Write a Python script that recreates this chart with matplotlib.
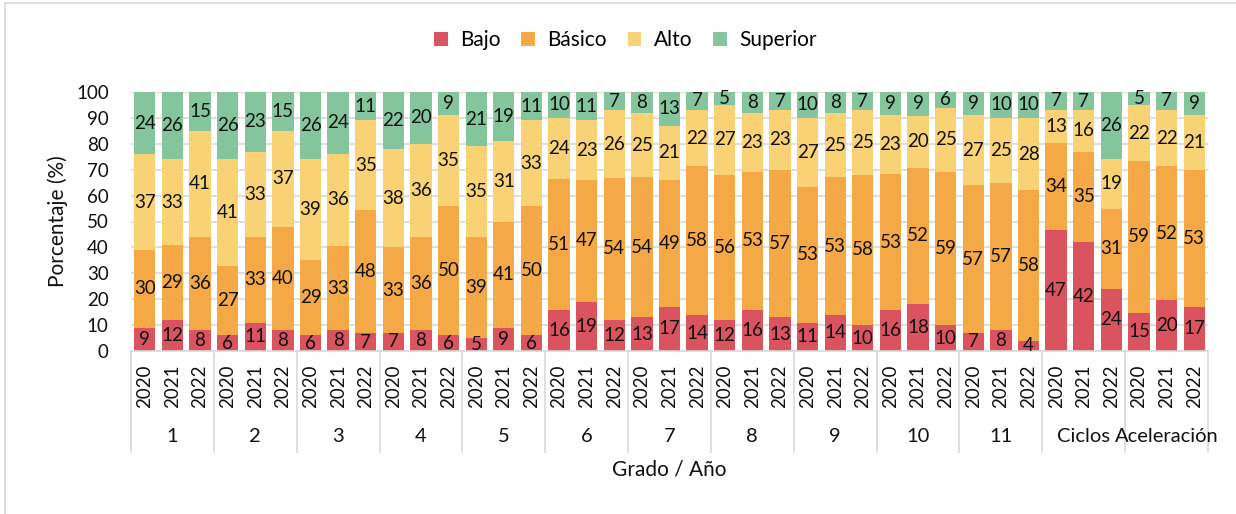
import matplotlib
matplotlib.use("Agg")
import matplotlib.pyplot as plt
from matplotlib.patches import Rectangle
import matplotlib.transforms as mtransforms
import numpy as np

plt.rcParams["font.family"] = ["Lato", "DejaVu Sans"]

grades = ["1", "2", "3", "4", "5", "6", "7", "8", "9", "10", "11", "Ciclos", "Aceleración"]
years = ["2020", "2021", "2022"]

bajo = [9, 12, 8, 6, 11, 8, 6, 8, 7, 7, 8, 6, 5, 9, 6,
        16, 19, 12, 13, 17, 14, 12, 16, 13, 11, 14, 10, 16, 18, 10,
        7, 8, 4, 47, 42, 24, 15, 20, 17]
basico = [30, 29, 36, 27, 33, 40, 29, 33, 48, 33, 36, 50, 39, 41, 50,
          51, 47, 54, 54, 49, 58, 56, 53, 57, 53, 53, 58, 53, 52, 59,
          57, 57, 58, 34, 35, 31, 59, 52, 53]
alto = [37, 33, 41, 41, 33, 37, 39, 36, 35, 38, 36, 35, 35, 31, 33,
        24, 23, 26, 25, 21, 22, 27, 23, 23, 27, 25, 25, 23, 20, 25,
        27, 25, 28, 13, 16, 19, 22, 22, 21]
superior = [24, 26, 15, 26, 23, 15, 26, 24, 11, 22, 20, 9, 21, 19, 11,
            10, 11, 7, 8, 13, 7, 5, 8, 7, 10, 8, 7, 9, 9, 6,
            9, 10, 10, 7, 7, 26, 5, 7, 9]

series = [("Bajo", bajo, "#D9545F"),
          ("Básico", basico, "#F5A946"),
          ("Alto", alto, "#F9D275"),
          ("Superior", superior, "#85C59D")]

NUM_FS = 13.5
TXT_FS = 15

W, H = 1236, 514
fig = plt.figure(figsize=(W / 100, H / 100), dpi=100)

# light frame around the chart area
fig.patches.append(Rectangle((5 / W, -0.05), 1.1, 1 - 3 / H + 0.05,
                             transform=fig.transFigure, fill=False,
                             edgecolor="#D9D9D9", linewidth=1.2))

left, right, top, bottom = 131, 1208, 92, 351
ax = fig.add_axes([left / W, 1 - bottom / H, (right - left) / W, (bottom - top) / H])

n = len(bajo)
x = np.arange(n)
# 100 % stacked columns: each column is scaled to its own total
totals = np.sum([np.array(v, dtype=float) for _, v, _ in series], axis=0)
base = np.zeros(n)
for name, vals, color in series:
    vals = np.array(vals, dtype=float)
    heights = vals / totals * 100
    bars = ax.bar(x, heights, bottom=base, width=0.77, color=color, label=name, zorder=2)
    ax.bar_label(bars, labels=[str(int(v)) for v in vals], label_type="center",
                 fontsize=NUM_FS, color="#111111", zorder=3)
    base += heights

ax.set_xlim(-0.5, n - 0.5)
ax.set_ylim(0, 100)
ax.set_yticks(range(0, 101, 10))
ax.yaxis.grid(True, color="#D9D9D9", linewidth=1.2, zorder=0)
ax.set_axisbelow(True)
ax.tick_params(axis="y", length=0, pad=16, labelsize=NUM_FS, labelcolor="#111111")
ax.set_xticks([])
for s in ["top", "right", "left"]:
    ax.spines[s].set_visible(False)
ax.spines["bottom"].set_color("#D9D9D9")
ax.spines["bottom"].set_linewidth(1.2)
ax.set_ylabel("Porcentaje (%)", fontsize=TXT_FS, color="#111111", labelpad=6)

# two-level category axis: years, then grade groups
trans = mtransforms.blended_transform_factory(ax.transData, ax.transAxes)
ax_h = bottom - top
for i in range(n):
    ax.text(i, -(386 - bottom) / ax_h, years[i % 3], rotation=90, ha="center", va="center",
            fontsize=NUM_FS, color="#111111", transform=trans)
for g, name in enumerate(grades):
    ax.text(3 * g + 1, -(437 - bottom) / ax_h, name, ha="center", va="center",
            fontsize=14.5, color="#111111", transform=trans)
for b in range(len(grades) + 1):
    xb = 3 * b - 0.5
    ax.plot([xb, xb], [0, -(452 - bottom) / ax_h], color="#D9D9D9", linewidth=1.2,
            transform=trans, clip_on=False)

ax.text(0.5, -(470 - bottom) / ax_h, "Grado / Año", ha="center", va="center",
        fontsize=TXT_FS, color="#111111", transform=ax.transAxes)

fig.legend(loc="center", bbox_to_anchor=(0.506, 1 - 40 / H), ncol=4, frameon=False,
           fontsize=TXT_FS, handlelength=0.65, handleheight=0.65, handletextpad=0.6,
           columnspacing=1.0)

fig.savefig("out.png", dpi=100, facecolor="white")
